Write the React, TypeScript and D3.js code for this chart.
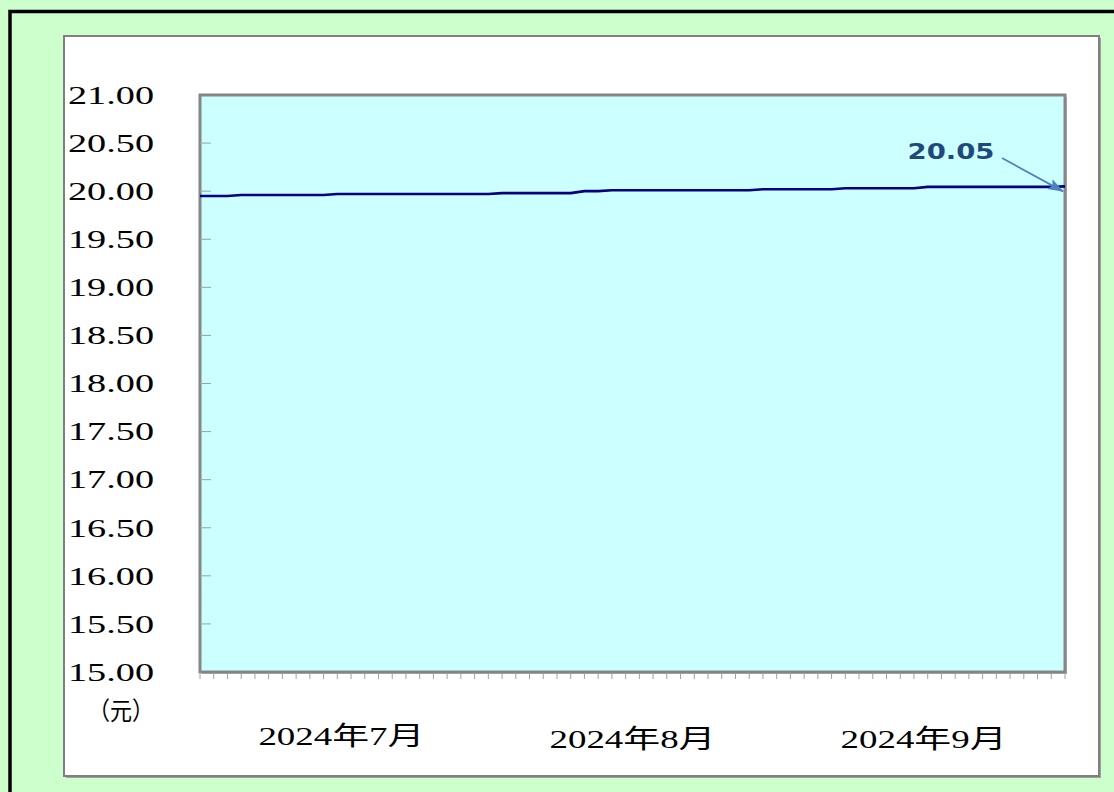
import React from 'react';
import * as d3 from 'd3';

// trading days, Jul - Sep 2024
const julyDays = ['07-01','07-02','07-03','07-04','07-05','07-08','07-09','07-10','07-11','07-12','07-15','07-16','07-17','07-18','07-19','07-22','07-23','07-24','07-25','07-26','07-29','07-30','07-31'];
const augDays = ['08-01','08-02','08-05','08-06','08-07','08-08','08-09','08-12','08-13','08-14','08-15','08-16','08-19','08-20','08-21','08-22','08-23','08-26','08-27','08-28','08-29','08-30'];
const sepDays = ['09-02','09-03','09-04','09-05','09-06','09-09','09-10','09-11','09-12','09-13','09-18','09-19','09-20','09-23','09-24','09-25','09-26','09-27','09-30'];
const dates = [...julyDays, ...augDays, ...sepDays];

const values = [
  19.95, 19.95, 19.95,
  19.96, 19.96, 19.96, 19.96, 19.96, 19.96, 19.96,
  19.97, 19.97, 19.97, 19.97, 19.97, 19.97, 19.97, 19.97, 19.97, 19.97, 19.97, 19.97,
  19.98, 19.98, 19.98, 19.98, 19.98, 19.98,
  20.00, 20.00,
  20.01, 20.01, 20.01, 20.01, 20.01, 20.01, 20.01, 20.01, 20.01, 20.01, 20.01,
  20.02, 20.02, 20.02, 20.02, 20.02, 20.02,
  20.03, 20.03, 20.03, 20.03, 20.03, 20.03,
  20.045, 20.045, 20.045, 20.045, 20.045, 20.045, 20.045, 20.045, 20.045, 20.045, 20.05,
];

const yTicks = [15, 15.5, 16, 16.5, 17, 17.5, 18, 18.5, 19, 19.5, 20, 20.5, 21];
const monthLabels = ['2024年7月', '2024年8月', '2024年9月'];
const monthLabelAt = [10.3, 31.5, 52.7]; // index position on the date axis
const lastLabel = '20.05';

const W = 1114;
const H = 792;
const plot = { left: 200, right: 1065, top: 95, bottom: 672 };
const serif = '"Liberation Serif", "Times New Roman", "Noto Sans CJK SC", serif';

export default function App() {
  const x = d3.scaleLinear().domain([0, dates.length - 1]).range([plot.left, plot.right]);
  const y = d3.scaleLinear().domain([15, 21]).range([plot.bottom, plot.top]);

  const line = d3.line<number>()
    .x((d, i) => x(i))
    .y(d => y(d));

  const lastX = x(dates.length - 1);
  const lastY = y(values[values.length - 1]);

  return (
    <div style={{ position: 'fixed', left: 0, top: 0 }}>
      <svg width={W} height={H} style={{ display: 'block' }}>
        <defs>
          <marker id="arr" viewBox="0 0 16 11" refX="15" refY="5.5" markerWidth="16" markerHeight="11" orient="auto" markerUnits="userSpaceOnUse">
            <path d="M0,0 L16,5.5 L0,11 L3,5.5 z" fill="#4f81bd" />
          </marker>
        </defs>
        <rect x={0} y={0} width={W} height={H} fill="#ccffcc" />
        <rect x={10} y={11.5} width={W + 20} height={H + 20} fill="none" stroke="#000" strokeWidth={3.5} />

        {/* white panel */}
        <rect x={66} y={38} width={1035} height={740} fill="#a0a0a0" />
        <rect x={64} y={36} width={1035} height={740} fill="#fff" stroke="#7f7f7f" strokeWidth={2} />

        {/* plot area */}
        <rect x={plot.left + 2} y={plot.top + 2} width={plot.right - plot.left} height={plot.bottom - plot.top} fill="#b8b8b8" />
        <rect x={plot.left} y={plot.top} width={plot.right - plot.left} height={plot.bottom - plot.top}
          fill="#ccffff" stroke="#868686" strokeWidth={3} />

        {/* y ticks and labels */}
        {yTicks.map(t => (
          <g key={t}>
            {t > 15 && t < 21 && (
              <line x1={plot.left} x2={plot.left + 11} y1={y(t)} y2={y(t)} stroke="#a0a0a0" strokeWidth={1} />
            )}
            <text x={68} y={y(t)} dy="0.35em" fontFamily={serif} fontSize={25}
              textLength={86} lengthAdjust="spacingAndGlyphs" fill="#000">
              {t.toFixed(2)}
            </text>
          </g>
        ))}
        <text x={88} y={710} dy="0.38em" fontFamily={serif} fontSize={25}
          textLength={66} lengthAdjust="spacingAndGlyphs" fill="#000">（元）</text>

        {/* x minor ticks */}
        {dates.map((d, i) => (
          <line key={d} x1={x(i)} x2={x(i)} y1={plot.bottom + 2} y2={plot.bottom + 7} stroke="#a0a0a0" strokeWidth={1} />
        ))}
        {monthLabels.map((m, i) => (
          <text key={m} x={x(monthLabelAt[i])} y={i === 0 ? 745 : 748} textAnchor="middle" fontFamily={serif} fontSize={26}
            textLength={166} lengthAdjust="spacingAndGlyphs" fill="#000">
            {m}
          </text>
        ))}

        {/* series */}
        <path d={line(values) || ''} fill="none" stroke="#000080" strokeWidth={2.6} />

        {/* annotation */}
        <text x={951} y={151} dy="0.36em" textAnchor="middle" fontFamily='"DejaVu Sans", Verdana, sans-serif'
          fontWeight="bold" fontSize={21} textLength={87} lengthAdjust="spacingAndGlyphs" fill="#1f497d">
          {lastLabel}
        </text>
        <line x1={1002} y1={158} x2={lastX - 2} y2={lastY + 5} stroke="#4f81bd" strokeWidth={1.8} markerEnd="url(#arr)" />
      </svg>
    </div>
  );
}
